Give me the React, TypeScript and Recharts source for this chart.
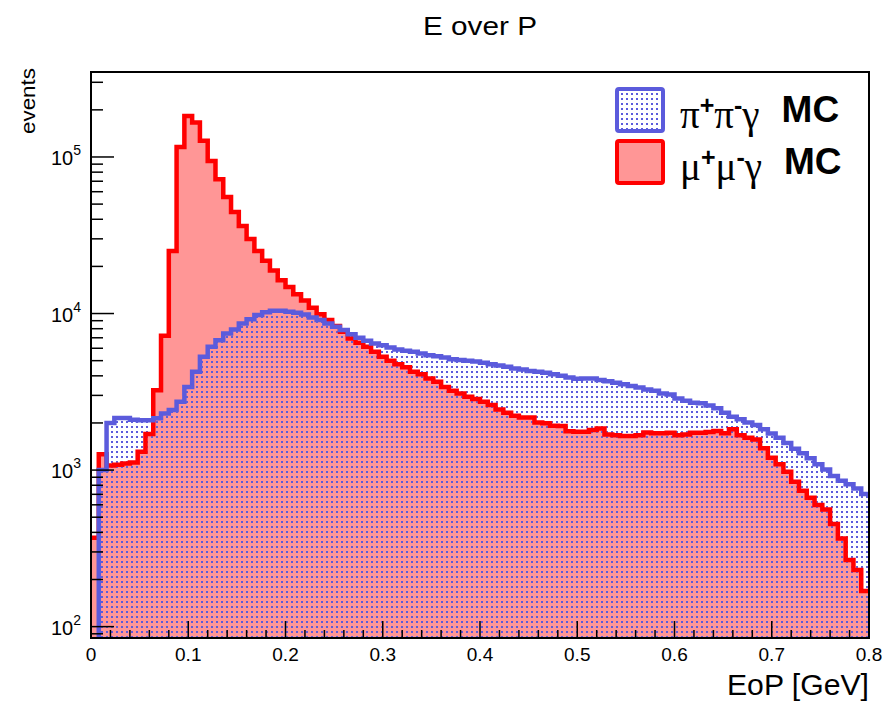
import React from 'react';
import { ComposedChart, Area, Line, XAxis, YAxis, Legend } from 'recharts';

// 100 bins of 0.008 GeV between 0 and 0.8
const binWidth = 0.008;

// pi+ pi- gamma MC, events per bin (first bin is empty, below the axis)
const piPiGamma = [
  50, 1000, 2000, 2150, 2150, 2100, 2080, 2080, 2140, 2300,
  2420, 2730, 3400, 4240, 5290, 6130, 6760, 7460, 7910, 8640,
  9210, 9770, 10200, 10400, 10400, 10250, 10100, 9870, 9440, 9080,
  8640, 8230, 7840, 7360, 7000, 6700, 6440, 6280, 6070, 5900,
  5780, 5690, 5560, 5420, 5340, 5240, 5110, 5040, 4990, 4940,
  4840, 4750, 4660, 4570, 4460, 4390, 4300, 4240, 4180, 4100,
  4000, 3900, 3830, 3850, 3850, 3760, 3700, 3610, 3540, 3440,
  3370, 3270, 3210, 3090, 3040, 2870, 2770, 2690, 2670, 2590,
  2480, 2320, 2190, 2110, 2010, 1940, 1820, 1710, 1610, 1490,
  1370, 1280, 1190, 1090, 1010, 915, 855, 811, 764, 703,
];

// mu+ mu- gamma MC, events per bin
const muMuGamma = [
  370, 1260, 1070, 1080, 1100, 1120, 1310, 1700, 3240, 7200,
  25100, 116000, 183000, 166000, 127000, 94400, 72100, 55600, 44600, 36300,
  29900, 25100, 21700, 18800, 16300, 14800, 13300, 12100, 10900, 9910,
  9080, 8310, 7650, 6930, 6500, 6130, 5690, 5290, 4990, 4750,
  4530, 4240, 4100, 3850, 3660, 3400, 3210, 3090, 2940, 2840,
  2730, 2600, 2440, 2320, 2220, 2170, 2170, 2010, 1990, 1920,
  1910, 1770, 1760, 1760, 1800, 1840, 1690, 1670, 1650, 1650,
  1670, 1740, 1720, 1720, 1730, 1670, 1690, 1730, 1730, 1750,
  1780, 1720, 1820, 1670, 1610, 1570, 1380, 1200, 1090, 975,
  841, 738, 666, 598, 561, 452, 366, 266, 230, 169,
];

const xMajorLabels = ['0', '0.1', '0.2', '0.3', '0.4', '0.5', '0.6', '0.7', '0.8'];
const xTicks = Array.from({ length: 41 }, (_, i) => Math.round(i * 2) / 100);

const yMin = 84.6;
const yMax = 349000;
const yTicks: number[] = [90];
for (let p = 100; p <= 100000; p *= 10) {
  for (let m = 1; m <= 9; m++) {
    if (m * p < yMax) yTicks.push(m * p);
  }
}

const rows = muMuGamma.map((mu, i) => ({
  x: Math.round(i * binWidth * 1000) / 1000,
  mu,
  pi: piPiGamma[i],
}));
rows.push({ x: 0.8, mu: muMuGamma[muMuGamma.length - 1], pi: piPiGamma[piPiGamma.length - 1] });

const BLUE = '#5b5bdc';
const RED = '#ff0000';
const PINK = '#ff9696';
const FONT = '"Liberation Sans", Arial, sans-serif';

const XTick = (props: any) => {
  const { x, y, payload } = props;
  const v = payload.value;
  const major = Math.abs(v * 10 - Math.round(v * 10)) < 1e-6;
  return (
    <g>
      <line x1={x} x2={x} y1={y} y2={y - (major ? 17 : 8)} stroke="#000" strokeWidth={1.5} />
      {major && (
        <text x={x} y={y + 23} textAnchor="middle" fontSize={19} fontFamily={FONT} fill="#000">
          {xMajorLabels[Math.round(v * 10)]}
        </text>
      )}
    </g>
  );
};

const YTick = (props: any) => {
  const { x, y, payload } = props;
  const v = payload.value;
  const exp = Math.log10(v);
  const decade = Math.abs(exp - Math.round(exp)) < 1e-6;
  return (
    <g>
      <line x1={x} x2={x + (decade ? 23 : 12)} y1={y} y2={y} stroke="#000" strokeWidth={1.5} />
      {decade && (
        <text x={x - 10} y={y + 8} textAnchor="end" fontSize={20} fontFamily={FONT} fill="#000">
          10
          <tspan fontSize={14} dy={-10}>{Math.round(exp)}</tspan>
        </text>
      )}
    </g>
  );
};

const legendItems = [
  { key: 'pi', particle: 'π', fill: 'url(#piDots)', stroke: BLUE },
  { key: 'mu', particle: 'μ', fill: PINK, stroke: RED },
];

const supStyle = { fontFamily: FONT, fontWeight: 'bold' as const, fontSize: 25 };

const renderLegend = () => (
  <div style={{ fontFamily: FONT }}>
    {legendItems.map((item) => (
      <div key={item.key} style={{ display: 'flex', alignItems: 'center', height: 52 }}>
        <svg width={50} height={46}>
          <rect x={2} y={2} width={46} height={42} rx={2} fill={item.fill} stroke={item.stroke} strokeWidth={4} />
        </svg>
        <span style={{ marginLeft: 15, fontFamily: '"Liberation Serif", serif', fontSize: 39, lineHeight: '40px' }}>
          {item.particle}
          <sup style={supStyle}>+</sup>
          {item.particle}
          <sup style={supStyle}>-</sup>
          γ
        </span>
        <span style={{ marginLeft: 22, fontWeight: 'bold', fontSize: 37, lineHeight: '40px' }}>MC</span>
      </div>
    ))}
  </div>
);

export default function App() {
  return (
    <div style={{ position: 'absolute', left: 0, top: 0, width: 882, height: 701, background: '#fff' }}>
      <ComposedChart width={882} height={701} data={rows} margin={{ top: 72, right: 13, bottom: 33, left: 31 }}>
        <defs>
          <pattern id="piDots" width={5} height={5} patternUnits="userSpaceOnUse">
            <rect x={1} y={1} width={2} height={2} fill={BLUE} shapeRendering="crispEdges" />
          </pattern>
        </defs>
        <text
          x={480}
          y={35}
          textAnchor="middle"
          fontSize={26}
          fontFamily={FONT}
          fill="#000"
          textLength={114}
          lengthAdjust="spacingAndGlyphs"
        >
          E over P
        </text>
        <Area type="stepAfter" dataKey="mu" fill={PINK} fillOpacity={1} stroke="none" baseValue={yMin} isAnimationActive={false} />
        <Area type="stepAfter" dataKey="pi" fill="url(#piDots)" fillOpacity={1} stroke="none" baseValue={yMin} isAnimationActive={false} />
        <Line type="stepAfter" dataKey="mu" stroke={RED} strokeWidth={4.5} dot={false} legendType="none" isAnimationActive={false} />
        <Line type="stepAfter" dataKey="pi" stroke={BLUE} strokeWidth={4.5} dot={false} legendType="none" isAnimationActive={false} />
        <XAxis
          type="number"
          dataKey="x"
          domain={[0, 0.8]}
          ticks={xTicks}
          interval={0}
          allowDataOverflow
          tickSize={0}
          tickMargin={0}
          axisLine={false}
          tick={XTick}
          height={30}
          label={{
            content: () => (
              <text
                x={869}
                y={695}
                textAnchor="end"
                fontSize={29}
                fontFamily={FONT}
                fill="#000"
                textLength={142}
                lengthAdjust="spacingAndGlyphs"
              >
                EoP [GeV]
              </text>
            ),
          }}
        />
        <YAxis
          scale="log"
          domain={[yMin, yMax]}
          ticks={yTicks}
          interval={0}
          allowDataOverflow
          tickSize={0}
          tickMargin={0}
          axisLine={false}
          tick={YTick}
          width={60}
          label={{
            content: () => (
              <text
                x={0}
                y={0}
                transform="translate(35,68) rotate(-90)"
                textAnchor="end"
                fontSize={21}
                fontFamily={FONT}
                fill="#000"
                textLength={66}
                lengthAdjust="spacingAndGlyphs"
              >
                events
              </text>
            ),
          }}
        />
        <Legend
          layout="horizontal"
          verticalAlign="middle"
          align="center"
          content={renderLegend}
          wrapperStyle={{ left: 615, top: 84, width: 262 }}
        />
      </ComposedChart>
      <div
        style={{
          position: 'absolute',
          left: 90,
          top: 71,
          width: 776,
          height: 564,
          border: '2px solid #000',
          pointerEvents: 'none',
        }}
      />
    </div>
  );
}
